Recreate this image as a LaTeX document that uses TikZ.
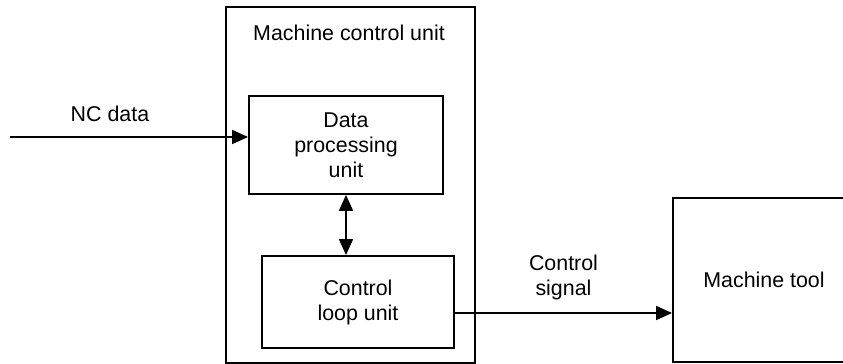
\documentclass[tikz,border=0pt]{standalone}
\usepackage{fontspec}
\setmainfont{Liberation Sans}
\usepackage{tikz}
\usetikzlibrary{arrows.meta, positioning}

\begin{document}
\begin{tikzpicture}[
        x=0.5pt, y=-0.5pt,
        every node/.style={font=\fontsize{10.7}{12.5}\selectfont},
        box/.style={rectangle, draw=black, line width=0.9pt, inner sep=0pt, align=center},
        arrow/.style={-{Triangle[length=8pt, width=7pt]}, line width=0.9pt},
        lab/.style={align=center, inner sep=2pt}
    ]
    \useasboundingbox (0,0) rectangle (843,364);

    % Boxes, placed at pixel coordinates of the original figure
    \node (mcu)   [box, minimum width=124.5pt, minimum height=178pt] at (350.5, 185) {};
    \node (title) [lab] at (349, 33) {Machine control unit};
    \node (dpu)   [box, minimum width=97pt, minimum height=49pt] at (346, 145) {Data\\processing\\unit};
    \node (clu)   [box, minimum width=96pt, minimum height=46pt] at (358, 302) {Control\\loop unit};
    \node (tool)  [box, minimum width=91pt, minimum height=82pt] at (764, 280) {Machine tool};
    \coordinate (ncin) at (10, 137);

    % Connectors
    \draw [arrow] (ncin) -- (ncin -| dpu.west) node[lab, pos=0.42, above=5pt] {NC data};
    \draw [arrow, {Triangle[length=8pt, width=7pt]}-{Triangle[length=8pt, width=7pt]}] (dpu.south) -- (dpu.south |- clu.north);
    \draw [arrow] ([yshift=-5.5pt]clu.east) -- ([yshift=-5.5pt]clu.east -| tool.west) node[lab, midway, above=4pt] {Control\\signal};

\end{tikzpicture}
\end{document}
